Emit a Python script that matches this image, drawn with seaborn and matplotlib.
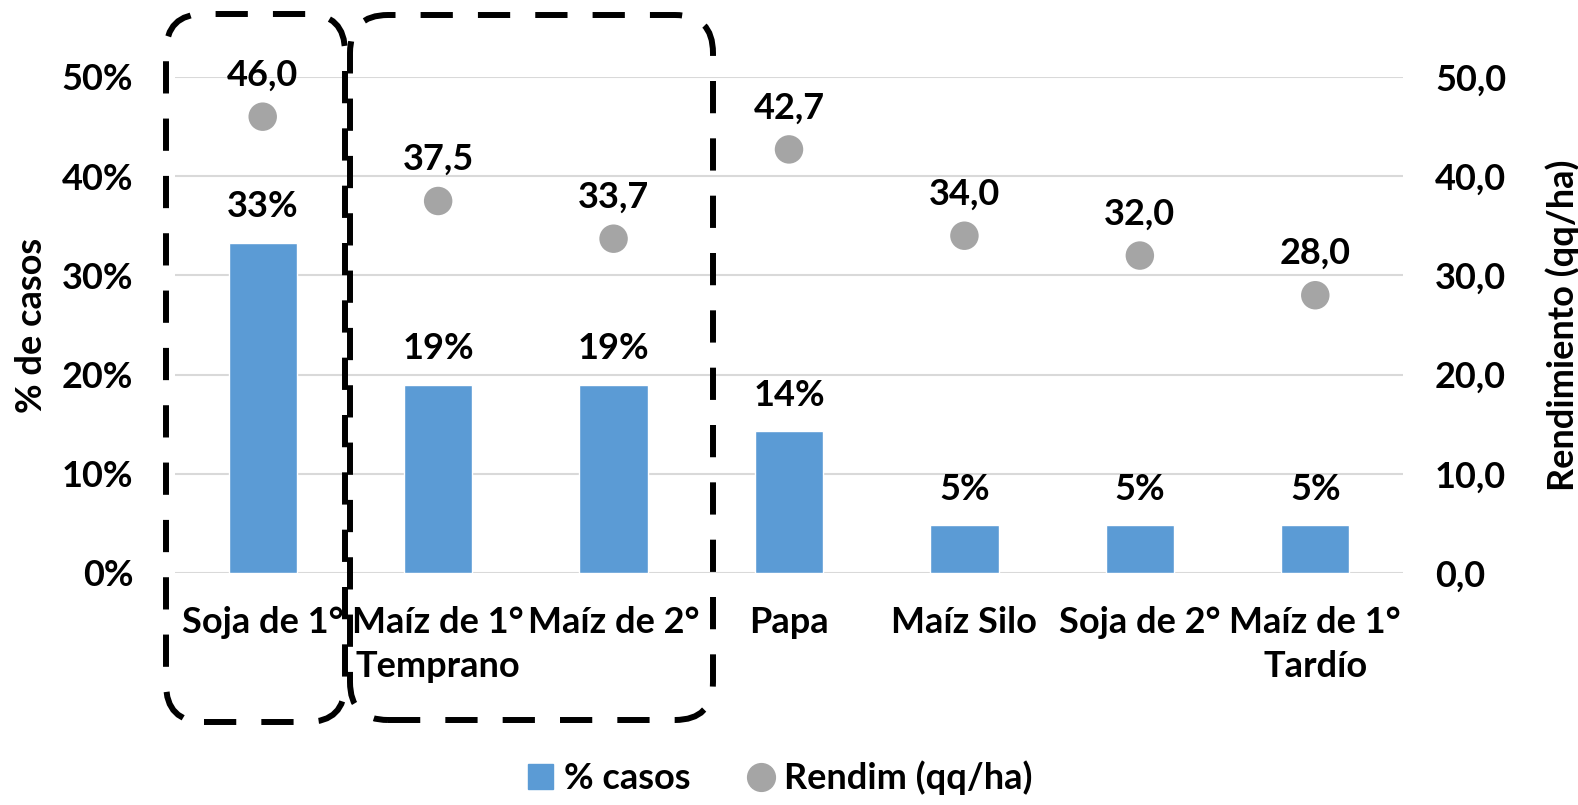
import numpy as np
import pandas as pd
import seaborn as sns
import matplotlib.pyplot as plt
from matplotlib.patches import FancyBboxPatch
from matplotlib.lines import Line2D
from matplotlib.patches import Patch
from matplotlib.transforms import IdentityTransform

cultivos = ["Soja de 1°", "Maíz de 1°\nTemprano", "Maíz de 2°", "Papa",
            "Maíz Silo", "Soja de 2°", "Maíz de 1°\nTardío"]
pct_casos = [33.3, 19.0, 19.0, 14.3, 4.8, 4.8, 4.8]
rendim = [46.0, 37.5, 33.7, 42.7, 34.0, 32.0, 28.0]

BLUE = "#5B9BD5"
GRAY = "#A5A5A5"
GRID = "#D9D9D9"

sns.set_style("white")
plt.rcParams["font.family"] = ["Lato", "DejaVu Sans"]
plt.rcParams["font.weight"] = "bold"
plt.rcParams["text.color"] = "black"
plt.rcParams["axes.labelcolor"] = "black"
plt.rcParams["xtick.color"] = "black"
plt.rcParams["ytick.color"] = "black"
FS = 26

df = pd.DataFrame({"cultivo": cultivos, "pct": pct_casos, "rend": rendim, "pos": range(len(cultivos))})

fig = plt.figure(figsize=(15.78, 8.05), dpi=100)
ax = fig.add_axes([175 / 1578, 1 - 573 / 805, (1403 - 175) / 1578, (573 - 77) / 805])

sns.barplot(data=df, x="cultivo", y="pct", color=BLUE, width=0.39, saturation=1, ax=ax, zorder=2)
ax.set_ylim(0, 50)
ax.set_xlim(-0.5, len(cultivos) - 0.5)
ax.set_yticks(np.arange(0, 51, 10))
ax.set_yticklabels([f"{v}%" for v in range(0, 51, 10)])
ax.yaxis.grid(True, color=GRID, lw=1.5, zorder=0)
ax.set_axisbelow(True)
for s in ax.spines.values():
    s.set_visible(False)
ax.tick_params(axis="both", length=0, labelsize=FS, labelcolor="black")
ax.tick_params(axis="y", pad=30)
ax.tick_params(axis="x", pad=24)
ax.set_xlabel("")
ax.set_ylabel("% de casos", fontsize=FS, fontweight="bold", labelpad=10, color="black")
for lbl in ax.get_xticklabels() + ax.get_yticklabels():
    lbl.set_fontweight("bold")
for lbl in ax.get_xticklabels():
    lbl.set_linespacing(1.4)

for i, v in enumerate(pct_casos):
    ax.annotate(f"{v:.0f}%", (i, v), xytext=(0, 14), textcoords="offset points",
                ha="center", va="bottom", fontsize=FS, fontweight="bold", color="black", clip_on=False)

ax2 = ax.twinx()
sns.scatterplot(data=df, x="pos", y="rend", color=GRAY, s=420, edgecolor="none", ax=ax2, zorder=3, legend=False)
ax2.set_ylim(0, 50)
ax2.set_xlim(-0.5, len(cultivos) - 0.5)
ax2.set_yticks(np.arange(0, 51, 10))
ax2.set_yticklabels([f"{v},0" for v in range(0, 51, 10)])
for s in ax2.spines.values():
    s.set_visible(False)
ax2.tick_params(axis="y", length=0, labelsize=FS, pad=23, labelcolor="black")
ax2.set_ylabel("Rendimiento (qq/ha)", fontsize=FS, fontweight="bold", labelpad=28, color="black")
for lbl in ax2.get_yticklabels():
    lbl.set_fontweight("bold")

for i, v in enumerate(rendim):
    ax2.annotate(f"{v:.1f}".replace(".", ","), (i, v), xytext=(0, 18), textcoords="offset points",
                 ha="center", va="bottom", fontsize=FS, fontweight="bold", color="black", clip_on=False)

# cuadros punteados (pixeles, origen abajo a la izquierda)
H = 805
for x0, x1, y0, y1 in [(166, 345, 14, 722), (350, 713, 15, 720)]:
    box = FancyBboxPatch((x0, H - y1), x1 - x0, y1 - y0,
                         boxstyle="round,pad=0,rounding_size=38",
                         transform=IdentityTransform(), fill=False,
                         ec="black", lw=4.3, ls=(0, (5.4, 4.2)), clip_on=False)
    fig.patches.append(box)

handles = [Patch(color=BLUE, label="% casos"),
           Line2D([], [], marker="o", ls="none", color=GRAY, markersize=20, label="Rendim (qq/ha)")]
fig.legend(handles=handles, loc="center", bbox_to_anchor=(780 / 1578, 1 - 778 / 805),
           ncol=2, frameon=False, handlelength=0.7, handleheight=0.7,
           handletextpad=0.3, columnspacing=1.6, prop={"size": FS, "weight": "bold"})

fig.savefig("out.png", dpi=100)
